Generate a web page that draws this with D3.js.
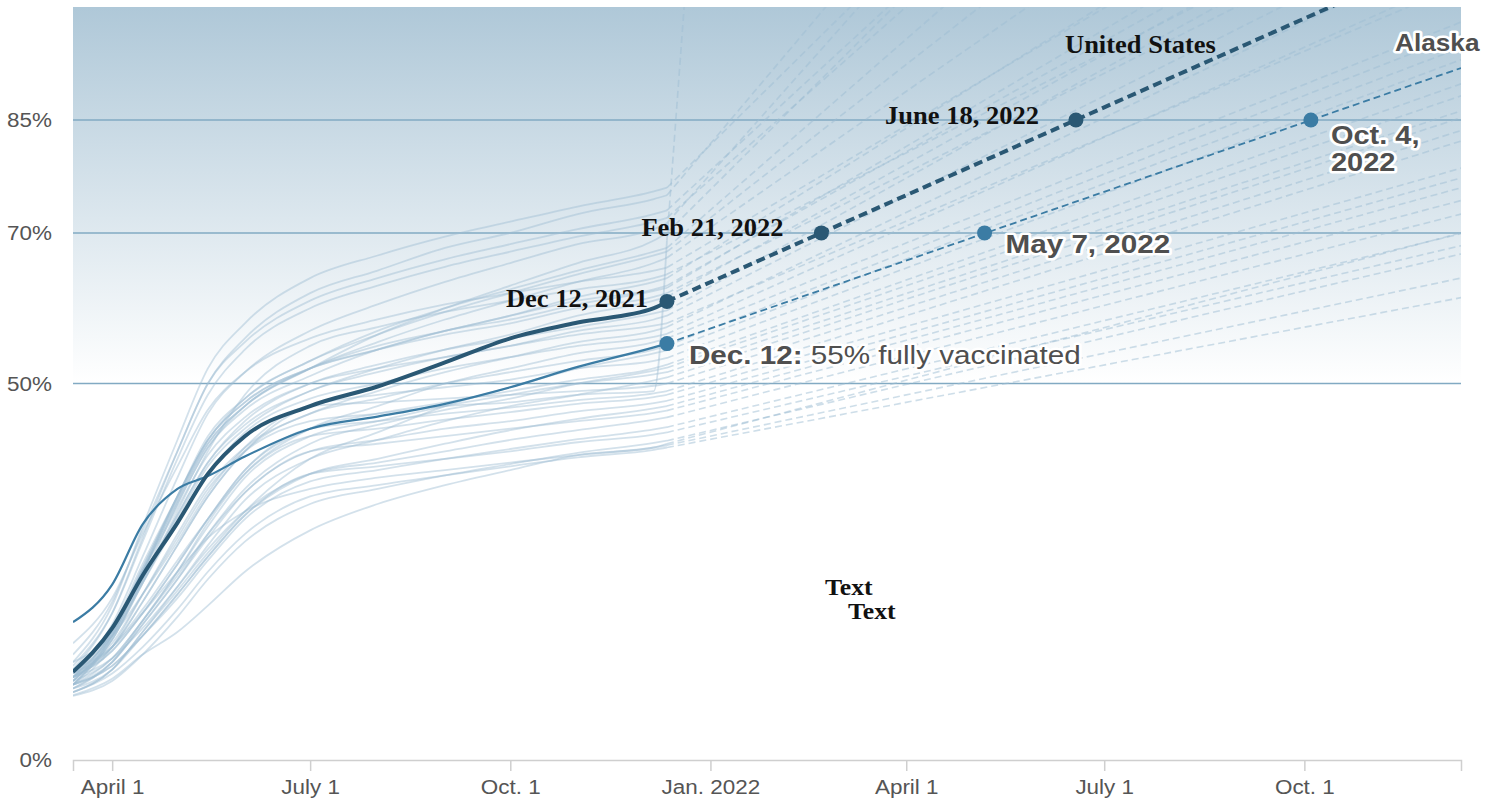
<!DOCTYPE html>
<html>
<head>
<meta charset="utf-8">
<script src="https://cdn.jsdelivr.net/npm/d3@7"></script>
<style>
  body { margin: 0; background: #fff; }
</style>
</head>
<body>
<script>
// sample dates for the observed (solid) part of every line
const dates = ["2021-03-14", "2021-04-01", "2021-04-15", "2021-05-01", "2021-05-15", "2021-06-01", "2021-07-01",
               "2021-08-01", "2021-09-01", "2021-10-01", "2021-11-01", "2021-12-06", "2021-12-12"];

const states = ["VT", "MA", "ME", "CT", "RI", "NY", "NJ", "MD", "WA", "NM", "HI", "VA", "OR", "CO", "MN", "CA",
                "NH", "DE", "PA", "WI", "IL", "NE", "FL", "MI", "UT", "IA", "KS", "NV", "AZ", "TX", "SD", "OH",
                "MT", "NC", "SC", "KY", "OK", "MO", "IN", "GA", "TN", "WV", "MS"];

// % fully vaccinated, one row per state
const stateValues = [
  [13, 20.5, 31, 42.5, 52, 58, 64, 67, 69.5, 71.5, 73.5, 75.5, 76],
  [12, 19.5, 29.5, 41, 50, 56, 62, 65, 68, 70, 72.5, 74.5, 75],
  [14, 21, 30.5, 41, 50, 55.5, 61, 64, 66.5, 68.5, 70.5, 72.5, 73],
  [12.5, 19.5, 29, 40, 48.5, 54.5, 60, 63, 65.5, 67.5, 69.5, 71.5, 72],
  [11, 18, 27, 37.5, 46, 51.5, 57, 60.5, 63.5, 66, 68.5, 70.5, 71.3],
  [10.5, 16.5, 25, 34.5, 42, 47, 52, 56.5, 60, 63, 66, 69, 70],
  [10, 16.5, 25, 35, 42.5, 48, 53, 57, 60, 62.5, 65, 67.5, 68],
  [10.5, 17, 25.5, 35, 43, 48, 53, 56.5, 59.5, 62, 64.5, 67, 67.5],
  [10, 16, 24, 34, 41.5, 47, 52, 55.5, 58.5, 61, 63.5, 66, 66.7],
  [15.5, 21.5, 30, 39, 46.5, 51.5, 56, 58.5, 60.5, 62, 63.5, 65, 65.4],
  [12, 17, 24, 33, 41, 48.5, 55, 57.5, 59.5, 61, 62.5, 64, 64.5],
  [11, 17, 25, 34, 41.5, 46.5, 51, 54.5, 57, 59, 61.5, 63.5, 64],
  [10.5, 16.5, 25, 34.5, 42, 47, 52, 55, 57, 59, 61, 62.5, 63],
  [11, 17, 25.5, 35, 42.5, 47.5, 52, 54.5, 57, 58.5, 60.5, 62.3, 62.7],
  [11.5, 17.5, 26, 35, 42.5, 47.5, 52, 54.5, 56.5, 58, 60, 61.5, 62],
  [10, 16, 23.5, 32.5, 39.5, 44.5, 49, 52, 54.5, 56.5, 59, 61, 61.5],
  [11, 15.5, 22, 29.5, 36, 41, 45, 46, 47, 47.5, 48.5, 49, 69],
  [11, 16.5, 24, 32.5, 39.5, 45, 50, 52.5, 54.5, 56, 57.5, 59.3, 59.7],
  [10.5, 16, 23.5, 32, 39, 44, 49, 51.5, 53.5, 55, 57, 58.5, 59],
  [12, 17.5, 25, 33.5, 40.5, 45.5, 50, 52, 53.5, 55, 56.5, 57.7, 58],
  [10, 15, 22, 30, 36.5, 41.5, 46, 49, 51.5, 53.5, 55.5, 57, 57.5],
  [11.5, 16.5, 23.5, 31.5, 38, 43.5, 48, 50, 52, 53.5, 55, 56.2, 56.6],
  [9.5, 13, 18.5, 25, 31.5, 38, 44, 47, 50, 52, 54, 55.5, 56],
  [11, 15, 21, 28.5, 35, 41, 46, 48, 50, 51.5, 53, 54.5, 55],
  [9, 12, 17, 22.5, 27.5, 33, 40, 43.5, 47, 49.5, 52, 54, 54.4],
  [11.5, 15, 21, 28.5, 35, 41, 47, 48.5, 49.5, 50.5, 52, 53, 53.4],
  [11, 14.5, 19.5, 26, 32, 38.5, 44, 46, 47.5, 49, 50.5, 52, 52.5],
  [9.5, 13, 18, 24, 30, 36, 42, 44.5, 46.5, 48, 50, 51.7, 52.1],
  [10, 13.5, 18.5, 25, 31, 37.5, 43, 45, 47, 48.5, 50, 51.2, 51.5],
  [9, 12, 17, 23, 28.5, 34.5, 40, 42.5, 45, 47, 48.5, 50.4, 50.8],
  [13, 16.5, 22, 29, 35.5, 41.5, 47, 47.5, 48, 48.5, 49, 49.7, 50],
  [11, 14.5, 19.5, 26, 32, 38.5, 44, 45, 46, 46.8, 47.8, 48.7, 49],
  [11.5, 15, 20, 26.5, 32, 38, 43, 44, 45.2, 46.2, 47.3, 48.2, 48.5],
  [10, 13, 18, 24, 29.5, 35.5, 41, 42.5, 44, 45, 46.3, 47.4, 47.7],
  [9.5, 12, 16.5, 22, 27, 32.5, 38, 40, 42, 43.8, 45.3, 46.7, 47],
  [10.5, 13.5, 18.5, 24.5, 30, 35.5, 41, 42, 43, 44, 45, 46.1, 46.4],
  [11, 13.5, 17.5, 23, 28, 33, 38, 39.5, 41, 42.5, 43.8, 45.2, 45.5],
  [10, 12.5, 16.5, 21.5, 26.5, 32, 37, 38.5, 40, 41.3, 42.6, 43.9, 44.2],
  [10, 12.5, 16.5, 22, 27, 32.5, 38, 39, 40, 41, 42.2, 43.2, 43.5],
  [8.5, 10.5, 14, 19, 24, 29, 34, 36, 37.8, 39.3, 40.8, 42.1, 42.4],
  [9, 11.5, 15, 20, 25, 30, 35, 36.5, 37.8, 39, 40.2, 41.2, 41.5],
  [12, 15, 19.5, 25, 29.5, 33, 36, 37.5, 38.5, 39.5, 40.5, 41.5, 41.8],
  [8.6, 10.8, 14, 17, 20.5, 25, 30.5, 34, 36.5, 38.5, 40.5, 41.5, 42]
];

// projected value one year out (2022-12-12), same state order
const stateProjected = [180, 200, 170, 165, 190, 175, 160, 150, 140, 128, 118, 130, 122, 125, 115, 120,
                        1500, 118, 112, 103, 108, 104, 98, 96.4, 94.6, 93, 89.8, 88.2, 86.2, 85.3, 83.6, 82.2,
                        78.6, 77.3, 76, 74.3, 72.5, 69.9, 68.3, 67.2, 61.4, 64, 70];

const usValues = [11.7, 17.5, 24.5, 31.5, 38, 43, 47, 49.6, 52.8, 56, 58.1, 60, 60.9];
const alaskaValues = [18.3, 23.3, 31.3, 36, 37.7, 40.3, 44, 45.6, 47.3, 49.5, 52.2, 54.8, 55.3];

const projStart = "2021-12-12";
const projEnd = "2022-12-12";
const usProjected = 107.7;
const alaskaProjected = 91.9;

const usMilestones = [["2021-12-12", 60.9, "Dec 12, 2021"], ["2022-02-21", 70, "Feb 21, 2022"], ["2022-06-18", 85, "June 18, 2022"]];
const alaskaMilestones = [["2021-12-12", 55.3], ["2022-05-07", 70], ["2022-10-04", 85]];

const yTicks = [0, 50, 70, 85];
const gridValues = [50, 70, 85];
const xTicks = ["2021-04-01", "2021-07-01", "2021-10-01", "2022-01-01", "2022-04-01", "2022-07-01", "2022-10-01"];
const xTickLabels = ["April 1", "July 1", "Oct. 1", "Jan. 2022", "April 1", "July 1", "Oct. 1"];

const parse = d3.timeParse("%Y-%m-%d");
const w = 1496, h = 802;
const usColor = "#2a5874", akColor = "#3b7ca4", faint = "#9dbdd3", grey = "#4f4f4f";
const serif = "'Liberation Serif', 'Times New Roman', serif";
const sans = "'Liberation Sans', Arial, Helvetica, sans-serif";
// label offsets from the US dots
const usLabelDx = [-19, -38, -37], usLabelDy = [6, 3, 4];

const svg = d3.select("body").append("svg")
    .attr("width", w)
    .attr("height", h);

// put text at px,py and stretch it a little sideways
function place(sel, px, py, sx) {
    return sel.attr("transform", "translate(" + px + "," + py + ") scale(" + sx + ",1)");
}

const x = d3.scaleTime()
    .domain([parse("2021-03-14"), parse("2022-12-12")])
    .range([73, 1461]);
const y = d3.scaleLinear()
    .domain([0, 100])
    .range([760, 7]);

// background gradient above 50%
const defs = svg.append("defs");
const grad = defs.append("linearGradient")
    .attr("id", "bg").attr("x1", 0).attr("y1", 0).attr("x2", 0).attr("y2", 1);
grad.append("stop").attr("offset", "0%").attr("stop-color", "#afc8d8");
grad.append("stop").attr("offset", "100%").attr("stop-color", "#ffffff");
defs.append("clipPath").attr("id", "plot")
    .append("rect")
    .attr("x", x.range()[0]).attr("y", y(100))
    .attr("width", x.range()[1] - x.range()[0])
    .attr("height", y(0) - y(100));

svg.append("rect")
    .attr("x", x.range()[0])
    .attr("y", y(100))
    .attr("width", x.range()[1] - x.range()[0])
    .attr("height", y(50) - y(100))
    .attr("fill", "url(#bg)");

// gridlines
svg.append("g").selectAll("line")
    .data(gridValues)
    .enter().append("line")
    .attr("x1", x.range()[0]).attr("x2", x.range()[1])
    .attr("y1", d => y(d)).attr("y2", d => y(d))
    .attr("stroke", "#82aac3")
    .attr("stroke-width", 1.5);

// y labels
svg.append("g").selectAll("text")
    .data(yTicks)
    .enter().append("text")
    .each(function (d) { place(d3.select(this), 52, y(d) + 7, 1.07); })
    .attr("text-anchor", "end")
    .style("font-family", sans)
    .style("font-size", "21px")
    .attr("fill", "#555")
    .text(d => d + "%");

// x axis
const xAxis = d3.axisBottom(x)
    .tickValues(xTicks.map(parse))
    .tickFormat((d, i) => xTickLabels[i])
    .tickSize(11)
    .tickSizeOuter(11)
    .tickPadding(8);
const gx = svg.append("g")
    .attr("transform", "translate(0," + y(0) + ")")
    .call(xAxis);
gx.select(".domain").attr("stroke", "#cfcfcf").attr("stroke-width", 1.5);
gx.selectAll(".tick line").attr("stroke", "#cfcfcf").attr("stroke-width", 1.5);
gx.selectAll(".tick text")
    .attr("transform", "scale(1.07,1)")
    .style("font-family", sans)
    .style("font-size", "21px")
    .attr("fill", "#555");

const line = d3.line()
    .x(d => x(d[0]))
    .y(d => y(d[1]))
    .curve(d3.curveMonotoneX);
const straight = d3.line()
    .x(d => x(d[0]))
    .y(d => y(d[1]));

const plot = svg.append("g").attr("clip-path", "url(#plot)");
const dParsed = dates.map(parse);

// faint state lines, observed
plot.append("g").selectAll("path")
    .data(stateValues)
    .enter().append("path")
    .attr("d", vals => line(vals.map((v, i) => [dParsed[i], v])))
    .attr("fill", "none")
    .attr("stroke", faint)
    .attr("stroke-opacity", 0.45)
    .attr("stroke-width", 1.8);

// faint state projections
plot.append("g").selectAll("path")
    .data(stateValues)
    .enter().append("path")
    .attr("d", (vals, i) => straight([[parse(projStart), vals[vals.length - 1]], [parse(projEnd), stateProjected[i]]]))
    .attr("fill", "none")
    .attr("stroke", faint)
    .attr("stroke-opacity", 0.5)
    .attr("stroke-width", 1.6)
    .attr("stroke-dasharray", "7,4");

// Alaska
plot.append("path")
    .attr("d", line(alaskaValues.map((v, i) => [dParsed[i], v])))
    .attr("fill", "none").attr("stroke", akColor).attr("stroke-width", 2.2);
plot.append("path")
    .attr("d", straight([[parse(projStart), alaskaValues[alaskaValues.length - 1]], [parse(projEnd), alaskaProjected]]))
    .attr("fill", "none").attr("stroke", akColor).attr("stroke-width", 1.8)
    .attr("stroke-dasharray", "7,4");

// United States
plot.append("path")
    .attr("d", line(usValues.map((v, i) => [dParsed[i], v])))
    .attr("fill", "none").attr("stroke", usColor).attr("stroke-width", 4);
plot.append("path")
    .attr("d", straight([[parse(projStart), usValues[usValues.length - 1]], [parse(projEnd), usProjected]]))
    .attr("fill", "none").attr("stroke", usColor).attr("stroke-width", 4)
    .attr("stroke-dasharray", "9,5");

// milestone dots
svg.append("g").selectAll("circle")
    .data(alaskaMilestones)
    .enter().append("circle")
    .attr("cx", d => x(parse(d[0]))).attr("cy", d => y(d[1]))
    .attr("r", 7.5).attr("fill", akColor);
svg.append("g").selectAll("circle")
    .data(usMilestones)
    .enter().append("circle")
    .attr("cx", d => x(parse(d[0]))).attr("cy", d => y(d[1]))
    .attr("r", 7.5).attr("fill", usColor);

// US labels (serif, black)
function serifText(sel, size) {
    return sel.style("font-family", serif)
        .style("font-weight", "bold")
        .style("font-size", size + "px")
        .attr("fill", "#111");
}
svg.append("g").selectAll("text")
    .data(usMilestones)
    .enter().append("text")
    .each(function (d, i) {
        place(d3.select(this), x(parse(d[0])) + usLabelDx[i], y(d[1]) + usLabelDy[i], 1.06);
    })
    .attr("text-anchor", "end")
    .call(serifText, 25)
    .text(d => d[2]);

place(svg.append("text"), 1065, 53, 1.06)
    .call(serifText, 25)
    .text("United States");

place(svg.append("text"), 825, 595, 1.07)
    .call(serifText, 24)
    .text("Text");
place(svg.append("text"), 848, 619, 1.07)
    .call(serifText, 24)
    .text("Text");

// Alaska labels (sans, grey with white halo)
function halo(sel, size) {
    sel.style("font-family", sans)
        .style("font-size", size + "px")
        .attr("fill", grey)
        .attr("stroke", "#fff")
        .attr("stroke-width", 5)
        .attr("stroke-linejoin", "round")
        .attr("paint-order", "stroke");
    return sel;
}

const a0 = alaskaMilestones[0], a1 = alaskaMilestones[1], a2 = alaskaMilestones[2];
const t0 = place(svg.append("text"), x(parse(a0[0])) + 22, y(a0[1]) + 20, 1.14)
    .call(halo, 26);
t0.append("tspan").style("font-weight", "bold").text("Dec. 12:");
t0.append("tspan").style("font-weight", "normal").text(" 55% fully vaccinated");

place(svg.append("text"), x(parse(a1[0])) + 21, y(a1[1]) + 20, 1.14)
    .call(halo, 26)
    .style("font-weight", "bold")
    .text("May 7, 2022");

// Oct. 4, 2022 on two lines
place(svg.append("text"), x(parse(a2[0])) + 20, y(a2[1]) + 24, 1.16)
    .call(halo, 25)
    .style("font-weight", "bold")
    .text("Oct. 4,");
place(svg.append("text"), x(parse(a2[0])) + 20, y(a2[1]) + 51, 1.16)
    .call(halo, 25)
    .style("font-weight", "bold")
    .text("2022");

place(svg.append("text"), 1395, 51, 1.14)
    .call(halo, 23)
    .style("font-weight", "bold")
    .text("Alaska");
</script>
</body>
</html>
